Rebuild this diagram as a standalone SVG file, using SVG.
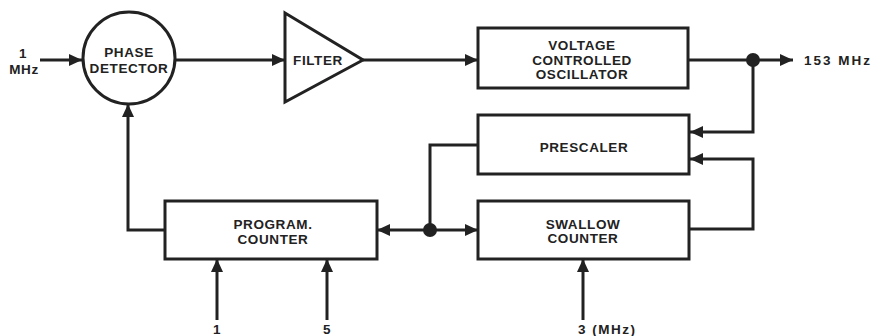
<svg xmlns="http://www.w3.org/2000/svg" width="871" height="336" viewBox="0 0 871 336">
<style>
  .box { fill: #fff; stroke: #222; stroke-width: 3; }
  .wire { fill: none; stroke: #222; stroke-width: 3; stroke-linejoin: miter; }
  .lbl { font-family: "Liberation Sans", Arial, sans-serif; font-weight: bold; font-size: 13.5px; fill: #222; text-anchor: middle; letter-spacing: 0.6px; }
  .dot { fill: #222; }
</style>
<defs>
  <marker id="arr" markerUnits="userSpaceOnUse" markerWidth="14" markerHeight="14" viewBox="0 0 14 14" refX="13" refY="7" orient="auto">
    <path d="M0,1 L13,7 L0,13 Z" fill="#222"/>
  </marker>
</defs>
<rect width="871" height="336" fill="#fff"/>
<g id="connectors">
  <line class="wire" x1="40" y1="60" x2="82" y2="60" marker-end="url(#arr)"/>
  <line class="wire" x1="175" y1="60" x2="285" y2="60" marker-end="url(#arr)"/>
  <line class="wire" x1="363" y1="60" x2="478" y2="60" marker-end="url(#arr)"/>
  <line class="wire" x1="688" y1="60" x2="793" y2="60" marker-end="url(#arr)"/>
  <polyline class="wire" points="753,60 753,132 690,132" marker-end="url(#arr)"/>
  <polyline class="wire" points="689,229 753,229 753,159 690,159" marker-end="url(#arr)"/>
  <polyline class="wire" points="478,145 430,145 430,230"/>
  <line class="wire" x1="430" y1="230" x2="478" y2="230" marker-end="url(#arr)"/>
  <line class="wire" x1="430" y1="230" x2="377" y2="230" marker-end="url(#arr)"/>
  <polyline class="wire" points="165,230 128,230 128,104" marker-end="url(#arr)"/>
  <line class="wire" x1="217" y1="320" x2="217" y2="259" marker-end="url(#arr)"/>
  <line class="wire" x1="327" y1="320" x2="327" y2="259" marker-end="url(#arr)"/>
  <line class="wire" x1="583" y1="320" x2="583" y2="259" marker-end="url(#arr)"/>
  <circle class="dot" cx="753" cy="60" r="7"/>
  <circle class="dot" cx="430" cy="230" r="7"/>
</g>
<g id="in1">
  <text class="lbl" x="23" y="58">1</text>
  <text class="lbl" x="24" y="74">MHz</text>
</g>
<g id="phase_detector">
  <circle class="box" cx="129" cy="58" r="46"/>
  <text class="lbl" x="129" y="57">PHASE</text>
  <text class="lbl" x="129" y="73">DETECTOR</text>
</g>
<g id="filter">
  <polygon class="box" points="285,13 363,60 285,102"/>
  <text class="lbl" x="318" y="65">FILTER</text>
</g>
<g id="vco">
  <rect class="box" x="478" y="28" width="210" height="60"/>
  <text class="lbl" x="582" y="50">VOLTAGE</text>
  <text class="lbl" x="582" y="65">CONTROLLED</text>
  <text class="lbl" x="582" y="79">OSCILLATOR</text>
</g>
<g id="out153">
  <text class="lbl" x="804" y="65" style="text-anchor:start;letter-spacing:2px">153 MHz</text>
</g>
<g id="prescaler">
  <rect class="box" x="478" y="115" width="211" height="59"/>
  <text class="lbl" x="584" y="152">PRESCALER</text>
</g>
<g id="swallow_counter">
  <rect class="box" x="478" y="201" width="211" height="58"/>
  <text class="lbl" x="583" y="229">SWALLOW</text>
  <text class="lbl" x="583" y="243">COUNTER</text>
</g>
<g id="program_counter">
  <rect class="box" x="165" y="201" width="212" height="58"/>
  <text class="lbl" x="273" y="229">PROGRAM.</text>
  <text class="lbl" x="273" y="244">COUNTER</text>
</g>
<g id="inputs">
  <text class="lbl" x="217" y="334">1</text>
  <text class="lbl" x="327" y="334">5</text>
  <text class="lbl" x="578" y="334" style="text-anchor:start;letter-spacing:1.5px">3 (MHz)</text>
</g>
</svg>
